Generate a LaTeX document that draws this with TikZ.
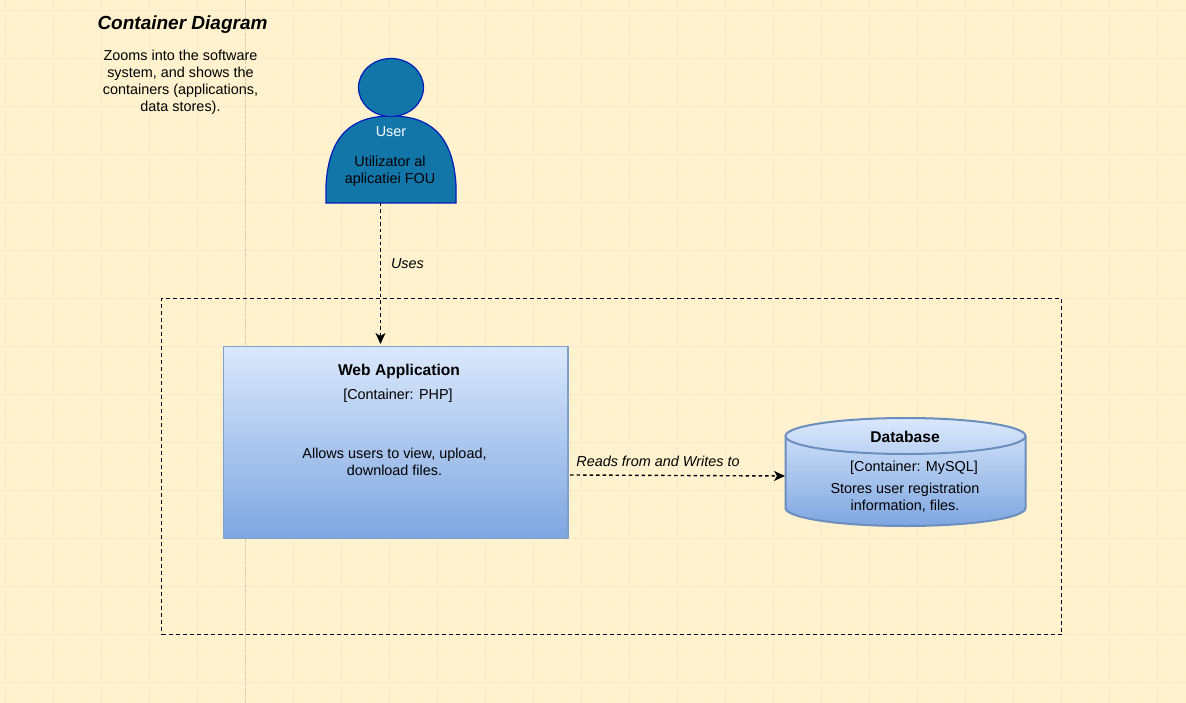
\documentclass[tikz,border=0pt]{standalone}
\usepackage{fontspec}
\setmainfont{Liberation Sans}
\usetikzlibrary{arrows.meta}
\definecolor{pagebg}{HTML}{FFF2CC}
\definecolor{gridminor}{HTML}{FBF0D3}
\definecolor{gridmajor}{HTML}{F4EAD2}
\definecolor{guideline}{HTML}{D9CDB0}
\definecolor{bluetop}{HTML}{DAE8FC}
\definecolor{bluebot}{HTML}{7EA6E0}
\definecolor{bluestroke}{HTML}{6C8EBF}
\definecolor{personfill}{HTML}{1276A9}
\definecolor{personline}{HTML}{001DBC}
\tikzset{
  x=1pt,y=-1pt,
  body/.style={font=\fontsize{14.4}{17}\selectfont,align=center,inner sep=0pt,text=black},
  heading/.style={font=\fontsize{15.6}{19}\selectfont\bfseries,inner sep=0pt,text=black},
  edgelabel/.style={font=\fontsize{14.4}{17}\selectfont\itshape,inner sep=0pt,text=black},
  flow/.style={draw=black,line width=1.4pt,dash pattern=on 3.5pt off 3pt,-{Stealth[length=11pt,width=10pt,inset=3pt]}},
  boundary/.style={draw=black,line width=1.5pt,dash pattern=on 4pt off 3pt,minimum width=900pt,minimum height=336pt,inner sep=0pt},
  container/.style={draw=bluestroke!85!white,line width=1.6pt,top color=bluetop,bottom color=bluebot,inner sep=0pt},
  dbfill/.style={top color=bluetop,bottom color=bluebot},
  dbline/.style={draw=bluestroke,line width=2pt},
  personshape/.style={fill=personfill,draw=personline,line width=1.2pt}
}
\begin{document}
\begin{tikzpicture}
\useasboundingbox (0,0) rectangle (1186,703);
\fill[pagebg] (0,0) rectangle (1186,703);
% grid
\foreach \k in {0,...,99}{
  \draw[gridminor,line width=1pt] ({5.3+12*\k-12},0) -- ({5.3+12*\k-12},703);
}
\foreach \k in {0,...,59}{
  \draw[gridminor,line width=1pt] (0,{10.3+12*\k-12}) -- (1186,{10.3+12*\k-12});
}
\foreach \k in {0,...,24}{
  \draw[gridmajor,line width=1pt] ({5.3+48*\k},0) -- ({5.3+48*\k},703);
}
\foreach \k in {0,...,14}{
  \draw[gridmajor,line width=1pt] (0,{10.3+48*\k}) -- (1186,{10.3+48*\k});
}
% guide
\draw[guideline,line width=1pt,dash pattern=on 4pt off 1.5pt] (245.5,0) -- (245.5,703);
% title
\node[font=\fontsize{19}{23}\selectfont\bfseries\itshape,inner sep=0pt] (title) at (182.5,24.5) {Container Diagram};
\node[body] (desc) at (180.5,82.5) {Zooms into the software\\system, and shows the\\containers (applications,\\data stores).};
% boundary
\node[boundary] (sys) at (611.5,466.5) {};
% user
\draw[personshape] (326,203) -- (326,185)
  .. controls (329,135) and (352,116) .. (391,116)
  .. controls (430,116) and (453,135) .. (456,185)
  -- (456,203) -- cycle;
\draw[personshape] (391,87.5) ellipse [x radius=32.5,y radius=29];
\node[inner sep=0pt,minimum width=130pt,minimum height=87pt] (user) at (391,159.5) {};
\node[body,text=white] (username) at (391,132) {User};
\node[body] (userdesc) at (390,171.5) {Utilizator al\\aplicatiei FOU};
% web app
\node[container,minimum width=344.5pt,minimum height=192pt] (web) at (395.75,442.5) {};
\node[heading] (webname) at (399,371.5) {Web Application};
\node[body] (webtech) at (398,396) {[Container: PHP]};
\node[body] (webdesc) at (394.5,462) {Allows users to view, upload,\\download files.};
% database
\shade[dbfill] (785.5,436) arc [start angle=180,end angle=360,x radius=120,y radius=18]
  -- (1025.5,508) arc [start angle=0,end angle=180,x radius=120,y radius=18] -- cycle;
\draw[dbline] (785.5,436) arc [start angle=180,end angle=360,x radius=120,y radius=18]
  -- (1025.5,508) arc [start angle=0,end angle=180,x radius=120,y radius=18] -- cycle;
\draw[dbline] (785.5,436) arc [start angle=180,end angle=0,x radius=120,y radius=18];
\node[inner sep=0pt,minimum width=241pt,minimum height=108pt] (db) at (905.5,472) {};
\node[heading] (dbname) at (905,436.5) {Database};
\node[body] (dbtech) at (914,467.5) {[Container: MySQL]};
\node[body] (dbdesc) at (905,498) {Stores user registration\\information, files.};
% connectors
\coordinate (userout) at (380.5,203);
\coordinate (webin) at (380.5,344);
\coordinate (webout) at (570,475);
\coordinate (dbin) at (785,476);
\draw[flow] (userout) -- (webin);
\draw[flow] (webout) -- (dbin);
\node[edgelabel] (uses) at (407.5,264) {Uses};
\node[edgelabel] (rw) at (658,461.5) {Reads from and Writes to};
\end{tikzpicture}
\end{document}
